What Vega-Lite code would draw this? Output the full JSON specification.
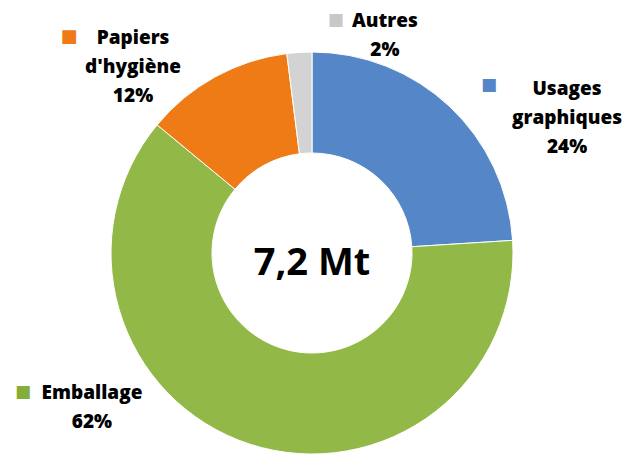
{
  "$schema": "https://vega.github.io/schema/vega-lite/v6.json",
  "width": 624,
  "height": 506,
  "padding": 0,
  "autosize": {"type": "none"},
  "background": "#ffffff",
  "config": {"view": {"stroke": null}},
  "layer": [
    {
      "data": {
        "values": [
          {"category": "Usages graphiques", "value": 24, "rank": 1, "label": "Usages\ngraphiques\n24%"},
          {"category": "Emballage", "value": 62, "rank": 2, "label": "Emballage\n62%"},
          {"category": "Papiers d'hygiène", "value": 12, "rank": 3, "label": "Papiers\nd'hygiène\n12%"},
          {"category": "Autres", "value": 2, "rank": 4, "label": "Autres\n2%"}
        ]
      },
      "encoding": {
        "theta": {"field": "value", "type": "quantitative", "stack": true},
        "order": {"field": "rank", "type": "quantitative"}
      },
      "layer": [
        {
          "mark": {"type": "arc", "outerRadius": 201, "innerRadius": 100, "stroke": "#ffffff", "strokeWidth": 1},
          "encoding": {
            "color": {
              "field": "category",
              "type": "nominal",
              "scale": {
                "domain": ["Usages graphiques", "Emballage", "Papiers d'hygiène", "Autres"],
                "range": ["#5587C8", "#92B947", "#EF7B17", "#D3D3D3"]
              },
              "legend": null
            }
          }
        },
        {
          "mark": {"type": "text", "radius": 225, "dx": 101, "dy": 6, "align": "center", "baseline": "alphabetic", "font": "Open Sans", "fontWeight": 800, "fontSize": 19, "lineBreak": "\n", "lineHeight": 29, "fill": "#000000"},
          "encoding": {
            "detail": {"field": "category"},
            "text": {"condition": {"test": "datum.category === 'Usages graphiques'", "field": "label"}, "value": ""}
          }
        },
        {
          "mark": {"type": "text", "radius": 225, "dx": -150.5, "dy": -68, "align": "center", "baseline": "alphabetic", "font": "Open Sans", "fontWeight": 800, "fontSize": 19, "lineBreak": "\n", "lineHeight": 29, "fill": "#000000"},
          "encoding": {
            "detail": {"field": "category"},
            "text": {"condition": {"test": "datum.category === 'Emballage'", "field": "label"}, "value": ""}
          }
        },
        {
          "mark": {"type": "text", "radius": 225, "dx": -70.6, "dy": -11.8, "align": "center", "baseline": "alphabetic", "font": "Open Sans", "fontWeight": 800, "fontSize": 19, "lineBreak": "\n", "lineHeight": 29, "fill": "#000000"},
          "encoding": {
            "detail": {"field": "category"},
            "text": {"condition": {"test": "datum.category === \"Papiers d'hygiène\"", "field": "label"}, "value": ""}
          }
        },
        {
          "mark": {"type": "text", "radius": 225, "dx": 87, "dy": -1.4, "align": "center", "baseline": "alphabetic", "font": "Open Sans", "fontWeight": 800, "fontSize": 19, "lineBreak": "\n", "lineHeight": 29, "fill": "#000000"},
          "encoding": {
            "detail": {"field": "category"},
            "text": {"condition": {"test": "datum.category === 'Autres'", "field": "label"}, "value": ""}
          }
        },
        {
          "mark": {"type": "text", "radius": 225, "dx": 23, "dy": -4, "align": "center", "baseline": "middle", "font": "DejaVu Sans", "fontSize": 17, "fill": "#5587C8"},
          "encoding": {
            "detail": {"field": "category"},
            "text": {"condition": {"test": "datum.category === 'Usages graphiques'", "value": "■"}, "value": ""}
          }
        },
        {
          "mark": {"type": "text", "radius": 225, "dx": -219.5, "dy": -75, "align": "center", "baseline": "middle", "font": "DejaVu Sans", "fontSize": 17, "fill": "#84AD3A"},
          "encoding": {
            "detail": {"field": "category"},
            "text": {"condition": {"test": "datum.category === 'Emballage'", "value": "■"}, "value": ""}
          }
        },
        {
          "mark": {"type": "text", "radius": 225, "dx": -134.6, "dy": -18.8, "align": "center", "baseline": "middle", "font": "DejaVu Sans", "fontSize": 18, "fill": "#EF7B17"},
          "encoding": {
            "detail": {"field": "category"},
            "text": {"condition": {"test": "datum.category === \"Papiers d'hygiène\"", "value": "■"}, "value": ""}
          }
        },
        {
          "mark": {"type": "text", "radius": 225, "dx": 38, "dy": -8.4, "align": "center", "baseline": "middle", "font": "DejaVu Sans", "fontSize": 17, "fill": "#C8C8C8"},
          "encoding": {
            "detail": {"field": "category"},
            "text": {"condition": {"test": "datum.category === 'Autres'", "value": "■"}, "value": ""}
          }
        }
      ]
    },
    {
      "data": {"values": [{"total": "7,2 Mt"}]},
      "mark": {"type": "text", "dy": 22, "align": "center", "baseline": "alphabetic", "font": "Open Sans", "fontWeight": "bold", "fontSize": 38, "fill": "#000000"},
      "encoding": {"text": {"field": "total", "type": "nominal"}}
    }
  ]
}
